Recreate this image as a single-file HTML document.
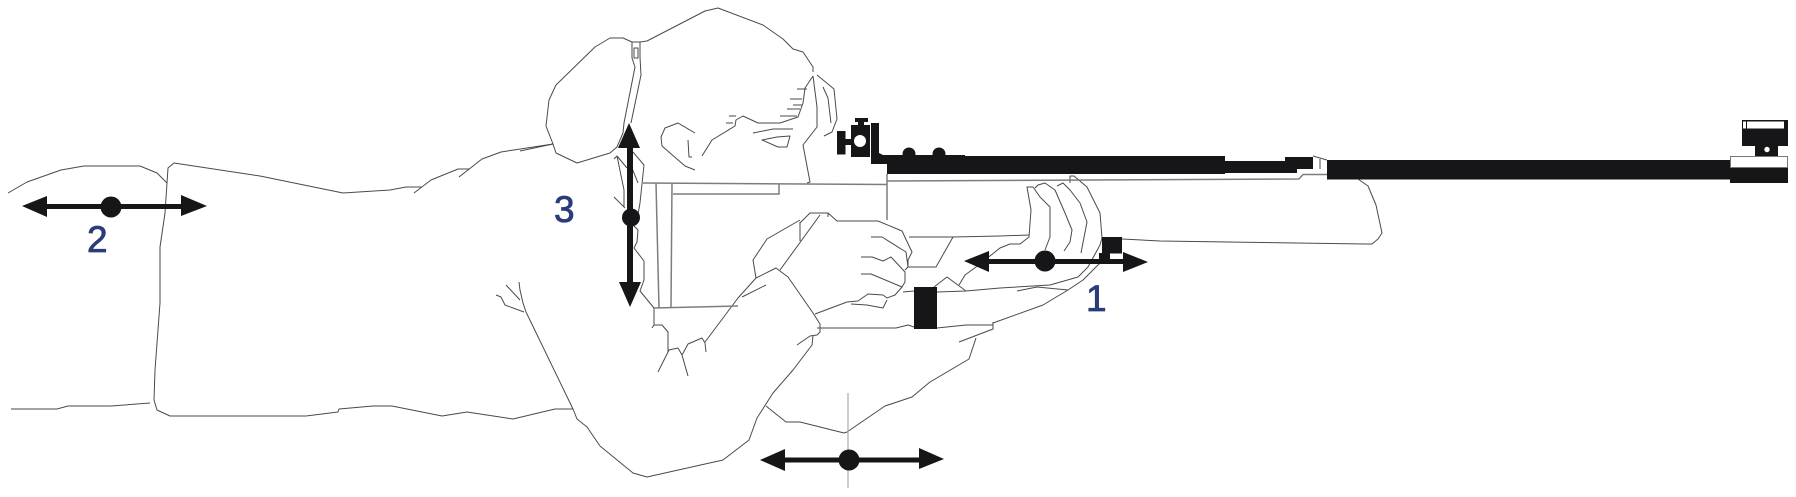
<!DOCTYPE html>
<html>
<head>
<meta charset="utf-8">
<style>
html,body{margin:0;padding:0;background:#fff;width:1796px;height:497px;overflow:hidden}
svg{display:block}
.l{fill:none;stroke:#4a4a4a;stroke-width:1;stroke-linejoin:round}
.g{fill:none;stroke:#7d7d7d;stroke-width:1.5}
.k{fill:#161618}
.t{font-family:"Liberation Sans",sans-serif;font-size:37px;fill:#2c3b7a;stroke:#2c3b7a;stroke-width:.8}
</style>
</head>
<body>
<svg width="1796" height="497" viewBox="0 0 1796 497" xmlns="http://www.w3.org/2000/svg">
<rect width="1796" height="497" fill="#fff"/>

<!-- body -->
<g class="l">
<polyline points="8,193 27,182 61,170 84,166 140,166 157,173 167,183"/>
<polyline points="174,163 168,168 167,183 165,213 160,247 160,303 155,370 154,400 157,410 170,416 306,416 338,412 339,409 373,406 392,406 442,416 467,412 513,419 555,409 573,409"/>
<polyline points="11,409 57,409 68,406 111,406 150,403"/>
<polyline points="174,163 260,176 343,193 390,190 406,187 421,187"/>
<polyline points="414,193 431,180 458,169 469,169"/>
<polyline points="459,177 482,159 501,152 553,144"/>
<polyline points="526,312 573,409 577,419 587,427 600,446 633,473 647,477 723,460 749,440 757,418 773,393 793,370 812,345 813,336"/>
<polyline points="519,282 520,290 523,303 526,312"/>
<polyline points="506,285 520,300"/>
<polyline points="496,295 501,297 505,305 524,312"/>

<!-- head -->
<polyline points="520,151 553,144 546,126 549,100 556,85 595,47 610,38 623,38 632,42 640,42 647,41 705,11 718,8 763,25 783,39 793,49 803,52 813,67 813,72"/>
<polyline points="553,144 556,153 577,163 610,153 617,147 623,133 624,123 635,67 632,58 632,42"/>
<polyline points="640,42 640,57 641,75 631,123"/>
<rect x="634" y="48" width="4" height="10"/>
<polyline points="695,133 678,123 665,128 661,137 662,146 685,166 695,170"/>
<polyline points="688,140 689,157 692,157"/>
<polyline points="702,156 712,140 735,126 736,120 743,116 758,123 780,123 798,117 803,103 805,88 813,76"/>
<path d="M797 89H807M790 99H802M793 105H802M787 109H800M780 116H797M729 116H736M726 123H733"/>
<polyline points="753,133 773,129 793,129"/>
<polygon points="762,140 777,137 790,136 787,147 778,147"/>
<polyline points="813,76 817,107 817,127 803,145 810,182 807,183"/>
<polyline points="817,75 834,89 837,119 832,132 824,136"/>
<polyline points="823,87 828,98 831,123"/>

<!-- neck -->
<polyline points="614,159 617,156 624,190 624,207"/>
<polyline points="617,156 627,168"/>
<polyline points="614,197 625,208"/>
<polyline points="633,152 644,165 640,203 637,220"/>
<polyline points="632,168 638,183"/>
<polyline points="633,225 638,230 637,242 634,248 644,261 644,280 640,291 654,308 654,325 652,328"/>
<polyline points="654,325 662,325 668,332 668,352"/>
<polyline points="658,372 669,350 678,348 682,355 688,376"/>
<polyline points="682,355 688,344 702,338 705,343 706,352"/>
<polyline points="705,342 738,298 756,278 776,268 788,277 813,313 820,324 820,332 817,335 810,336 797,345"/>
<polyline points="742,297 766,285"/>

<!-- right hand on grip -->
<polyline points="800,220 767,239 753,260 756,278"/>
<polyline points="800,222 800,241"/>
<polyline points="800,223 810,213 828,213 837,221 878,221 902,231 912,252 908,260 908,267 905,270"/>
<polyline points="820,215 780,270"/>
<polyline points="828,213 828,217"/>
<polyline points="871,237 882,237 906,252 908,267"/>
<polyline points="861,257 872,257 883,261 891,257 905,272 905,282 902,287 895,295 887,298 883,295 868,294 858,301 847,302 815,314"/>
<polyline points="861,274 871,274 902,287"/>
<polyline points="851,304 867,305 883,308 887,300"/>

<!-- left arm -->
<polyline points="909,237 953,237 1000,236 1029,235"/>
<polyline points="953,237 936,267 908,267"/>
<polyline points="903,292 914,291"/>
<polyline points="937,292 966,291 1000,288 1050,285 1078,277 1088,267 1100,245 1102,238 1100,213 1087,187 1074,176 1070,176 1070,183"/>
<polyline points="934,287 947,277 966,291"/>
<polyline points="959,285 965,275 976,267 1000,248 1010,244 1020,244 1029,237 1031,210 1027,187 1033,187 1040,197 1050,207 1050,237 1045,250"/>
<polyline points="817,328 896,328 908,325 914,327"/>
<polyline points="937,328 966,325 993,325"/>
<polyline points="993,322 993,329 959,342"/>
<polyline points="976,338 969,359 930,382 912,397 885,406 847,432 844,433 800,422 786,422 766,406"/>
<polyline points="1035,188 1038,185 1045,183 1055,190 1065,213 1072,230 1070,242 1064,251"/>
<polyline points="1057,186 1063,183 1070,190 1080,203 1087,222 1081,253"/>
<polyline points="1017,291 1037,287 1068,290 1083,280 1100,263"/>
<polyline points="1068,290 1043,305 993,323"/>

<!-- forearm under barrel -->
<polyline points="1358,179 1368,186 1376,205 1382,233 1378,239 1372,244 1365,244"/>
<polyline points="1122,239 1160,241 1365,244"/>
</g>

<!-- stock -->
<g class="g">
<polyline points="643,183 887,184.5 887,220"/>
<polyline points="887,181 1299,179 1303,174.500 1327,174.500"/>
<polyline points="656,183 659,308"/>
<polyline points="672,183 671,307"/>
<polyline points="673,194 779,194 779,184"/>
<polyline points="654,308 738,306"/>
<line x1="887" y1="174" x2="887" y2="184"/>
</g>
<polyline class="l" points="1313,156 1327,160"/>
<line class="l" x1="1320" y1="159" x2="1320" y2="169"/>
<line x1="848" y1="393" x2="848" y2="488" stroke="#aaa" stroke-width="1.2"/>

<!-- rifle -->
<g class="k">
<rect x="837" y="131" width="8.500" height="23.500"/>
<rect x="845" y="139" width="7" height="6"/>
<rect x="851" y="125" width="19" height="32"/>
<rect x="858" y="121" width="6" height="5"/>
<rect x="855" y="118" width="13" height="4"/>
<polygon points="871,123 879,123 879,153 883,155 965,155 965,156 1225,156 1225,161 1285,161 1285,157 1313,157 1313,169 1297,169 1297,173 1225,173 1225,174 887,174 887,164 871,164"/>
<circle cx="909" cy="154" r="6.500"/>
<circle cx="939" cy="154" r="6.500"/>
<rect x="1327" y="160" width="403" height="19.500"/>
<rect x="914" y="287" width="23" height="42"/>
<rect x="1102" y="237" width="20" height="16.500"/>
<rect x="1099" y="253" width="11" height="6"/>
<rect x="1742" y="120" width="46" height="26"/>
<rect x="1755" y="146" width="23" height="11"/>
<rect x="1730" y="167" width="58" height="16"/>
</g>
<circle cx="860" cy="141" r="6" fill="#fff"/>
<rect x="1747" y="121.500" width="37" height="7" fill="#fff"/>
<rect x="1743" y="121.500" width="3" height="7" fill="#fff"/>
<circle cx="1767" cy="149.500" r="2.700" fill="#fff"/>
<rect x="1730.500" y="156.500" width="57" height="11" fill="#fff" stroke="#777" stroke-width="1"/>

<!-- arrows -->
<g class="k">
<polygon points="22,206 47,196 47,217"/>
<rect x="45" y="204" width="140" height="5"/>
<polygon points="181,195 207,206 181,216"/>
<circle cx="111" cy="207" r="10.500"/>

<polygon points="964,261 989,251 989,272"/>
<rect x="987" y="259" width="140" height="5"/>
<polygon points="1123,252 1148,262 1123,272"/>
<circle cx="1045" cy="261" r="10.500"/>

<polygon points="760,460 785,449 785,471"/>
<rect x="783" y="457.500" width="138" height="5"/>
<polygon points="919,448 944,459 919,469"/>
<circle cx="849" cy="460" r="10.500"/>

<polygon points="629,123 618,148 640,148"/>
<rect x="627" y="145" width="6" height="139"/>
<polygon points="619,282 641,282 630,307"/>
<circle cx="631" cy="217.500" r="9"/>
</g>

<text class="t" x="87" y="252">2</text>
<text class="t" x="554" y="222">3</text>
<text class="t" x="1086" y="311">1</text>
</svg>
</body>
</html>
